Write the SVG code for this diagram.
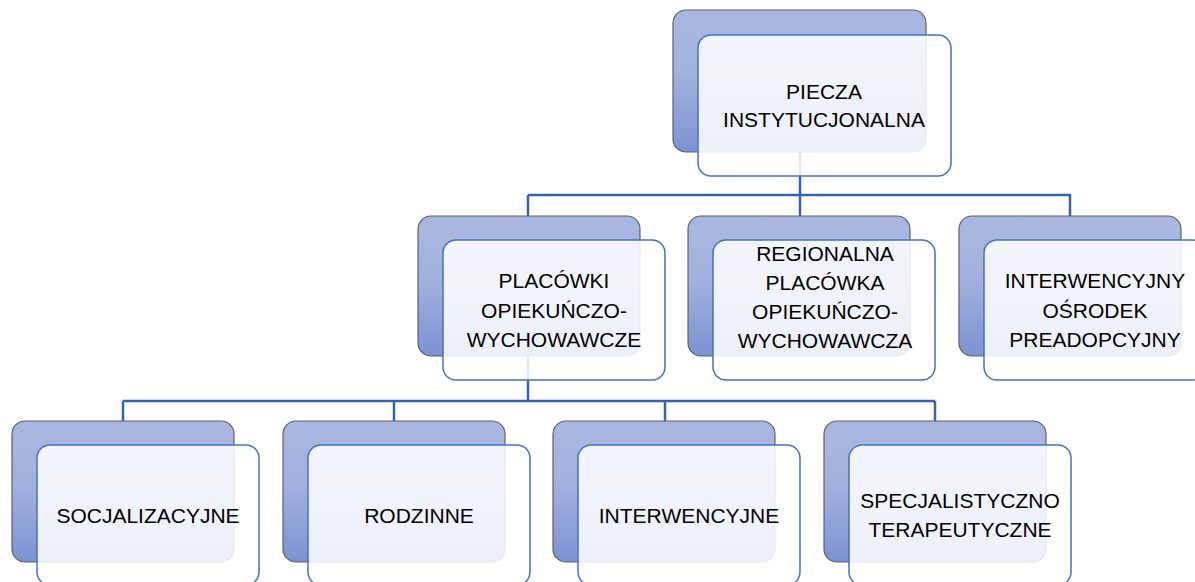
<svg xmlns="http://www.w3.org/2000/svg" width="1195" height="582" viewBox="0 0 1195 582">
<defs>
<linearGradient id="bg" x1="0" y1="0" x2="0" y2="1">
<stop offset="0" stop-color="#A9B7E0"/>
<stop offset="0.45" stop-color="#A2B1DD"/>
<stop offset="1" stop-color="#7C93D3"/>
</linearGradient>
</defs>
<style>
.back{fill:url(#bg);stroke:#5E6168;stroke-width:1.2}
.front{fill:#FFFFFF;fill-opacity:0.86;stroke:#4472C4;stroke-width:1.5}
.conn{fill:none;stroke:#3A61AD;stroke-width:2.5}
text{font-family:"Liberation Sans",Arial,sans-serif;font-size:21px;fill:#000;text-anchor:middle}
</style>
<rect width="1195" height="582" fill="#FFFFFF"/>
<g id="connectors">
<path class="conn" d="M800,152 V216 M528,195 H1071 M528,195 V216 M1070,195 V216 M528,356 V401 M123,401 H935 M123,401 V421 M394,401 V421 M665,401 V421 M935,401 V421"/>
</g>
<g id="node-piecza">
<rect class="back" x="673" y="10" width="253" height="142" rx="13"/>
<rect class="front" x="698" y="35" width="253" height="141" rx="13"/>
<text x="824" y="99">PIECZA</text>
<text x="824" y="127">INSTYTUCJONALNA</text>
</g>
<g id="node-placowki">
<rect class="back" x="418" y="216" width="222" height="140" rx="13"/>
<rect class="front" x="443" y="240" width="222" height="140" rx="13"/>
<text x="554" y="288">PLACÓWKI</text>
<text x="554" y="318">OPIEKUŃCZO-</text>
<text x="554" y="347">WYCHOWAWCZE</text>
</g>
<g id="node-regionalna">
<rect class="back" x="688" y="216" width="222" height="140" rx="13"/>
<rect class="front" x="713" y="240" width="222" height="140" rx="13"/>
<text x="825" y="261">REGIONALNA</text>
<text x="825" y="290">PLACÓWKA</text>
<text x="825" y="319">OPIEKUŃCZO-</text>
<text x="825" y="348">WYCHOWAWCZA</text>
</g>
<g id="node-osrodek">
<rect class="back" x="959" y="216" width="222" height="140" rx="13"/>
<rect class="front" x="984" y="240" width="222" height="140" rx="13"/>
<text x="1095" y="288">INTERWENCYJNY</text>
<text x="1095" y="318">OŚRODEK</text>
<text x="1095" y="347">PREADOPCYJNY</text>
</g>
<g id="node-socjalizacyjne">
<rect class="back" x="12" y="421" width="222" height="141" rx="13"/>
<rect class="front" x="37" y="445" width="222" height="140" rx="13"/>
<text x="148" y="523">SOCJALIZACYJNE</text>
</g>
<g id="node-rodzinne">
<rect class="back" x="283" y="421" width="222" height="141" rx="13"/>
<rect class="front" x="308" y="445" width="222" height="140" rx="13"/>
<text x="419" y="523">RODZINNE</text>
</g>
<g id="node-interwencyjne">
<rect class="back" x="553" y="421" width="222" height="141" rx="13"/>
<rect class="front" x="578" y="445" width="222" height="140" rx="13"/>
<text x="689" y="523">INTERWENCYJNE</text>
</g>
<g id="node-specjalistyczno">
<rect class="back" x="824" y="421" width="222" height="141" rx="13"/>
<rect class="front" x="849" y="445" width="222" height="140" rx="13"/>
<text x="960" y="508">SPECJALISTYCZNO</text>
<text x="960" y="537">TERAPEUTYCZNE</text>
</g>
</svg>
